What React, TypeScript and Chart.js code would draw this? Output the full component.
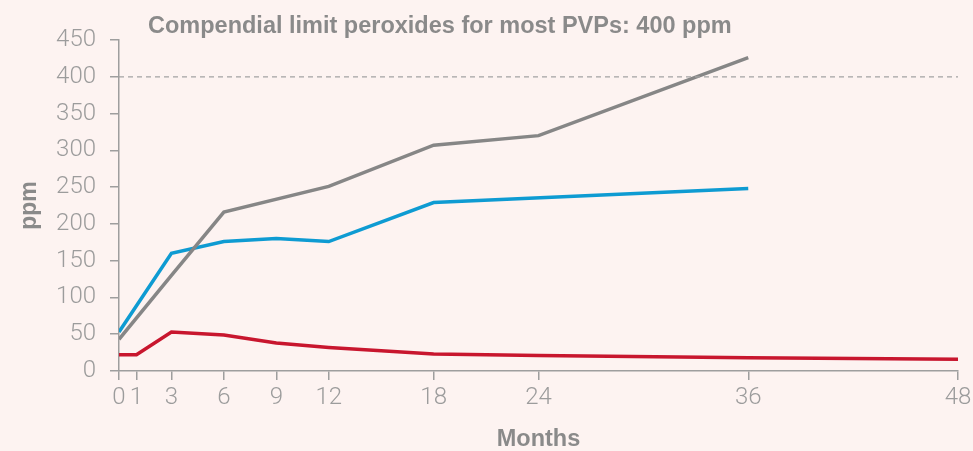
import React, { useEffect, useRef } from "react";
import { Chart, registerables } from "chart.js";

Chart.register(...registerables);

const xTicks = [0, 1, 3, 6, 9, 12, 18, 24, 36, 48];
const yMax = 450;
const yStep = 50;
const limitValue = 400;

const grayMonths = [0, 3, 6, 12, 18, 24, 36];
const grayValues = [43, 130, 216, 251, 307, 320, 426];

const blueMonths = [0, 3, 6, 9, 12, 18, 36];
const blueValues = [53, 160, 176, 180, 176, 229, 248];

const redMonths = [0, 1, 3, 6, 9, 12, 18, 24, 36, 48];
const redValues = [22, 22, 53, 49, 38, 32, 23, 21, 18, 16];

const titleText = "Compendial limit peroxides for most PVPs: 400 ppm";
const yTitle = "ppm";
const xTitle = "Months";

const BG = "#fdf3f1";
const AXIS = "#9e9e9e";
const TEXT = "#9c9c9c";
const TITLE = "#8a8a8a";
const TICK_FONT = { family: "Roboto, 'Liberation Sans', sans-serif", size: 24, weight: "300" };
const BOLD_FONT = "'Liberation Sans', Arial, sans-serif";

const toPts = (xs: number[], ys: number[]) => xs.map((x, i) => ({ x, y: ys[i] }));

export default function App() {
  const ref = useRef<HTMLCanvasElement | null>(null);
  useEffect(() => {
    document.body.style.margin = "0";
    document.body.style.background = BG;
    const canvas = ref.current!;
    const titlePlugin = {
      id: "topTitle",
      afterDraw(chart: any) {
        const ctx = chart.ctx;
        ctx.save();
        ctx.font = `bold 23.5px ${BOLD_FONT}`;
        ctx.fillStyle = TITLE;
        ctx.textBaseline = "middle";
        ctx.textAlign = "left";
        ctx.fillText(titleText, chart.chartArea.left + 29, 27);
        ctx.restore();
      },
    };
    const chart = new Chart(canvas, {
      type: "line",
      data: {
        datasets: [
          {
            data: [
              { x: xTicks[0], y: limitValue },
              { x: xTicks[xTicks.length - 1], y: limitValue },
            ],
            borderColor: "#a3a3a3",
            borderWidth: 1.2,
            borderDash: [5, 4],
            pointRadius: 0,
          },
          {
            data: toPts(grayMonths, grayValues),
            borderColor: "#868686",
            borderWidth: 3.5,
            pointRadius: 0,
            tension: 0,
          },
          {
            data: toPts(blueMonths, blueValues),
            borderColor: "#0e9bd2",
            borderWidth: 3.5,
            pointRadius: 0,
            tension: 0,
          },
          {
            data: toPts(redMonths, redValues),
            borderColor: "#c8162e",
            borderWidth: 3.5,
            pointRadius: 0,
            tension: 0,
          },
        ],
      },
      options: {
        animation: false,
        responsive: false,
        maintainAspectRatio: false,
        layout: { padding: { left: 0, right: 15, top: 40, bottom: 0 } },
        plugins: { legend: { display: false }, tooltip: { enabled: false }, title: { display: false } },
        scales: {
          x: {
            type: "linear",
            min: 0,
            max: 48,
            afterBuildTicks: (scale: any) => {
              scale.ticks = xTicks.map((v) => ({ value: v }));
            },
            afterFit: (scale: any) => {
              scale.height = 80;
              scale.paddingRight = 0;
              scale.paddingLeft = 0;
            },
            grid: {
              drawOnChartArea: false,
              drawTicks: true,
              tickLength: 9,
              color: AXIS,
              lineWidth: 1.5,
            },
            border: { color: AXIS, width: 1.5 },
            ticks: {
              color: TEXT,
              padding: 4,
              autoSkip: false,
              maxRotation: 0,
              font: TICK_FONT,
            },
            title: {
              display: true,
              text: xTitle,
              color: TITLE,
              padding: { top: 4, bottom: -3 },
              font: { family: BOLD_FONT, size: 23.5, weight: "bold" },
            },
          },
          y: {
            min: 0,
            max: yMax,
            afterFit: (scale: any) => {
              scale.width = 119;
            },
            grid: {
              drawOnChartArea: false,
              drawTicks: true,
              tickLength: 9,
              color: AXIS,
              lineWidth: 1.5,
            },
            border: { color: AXIS, width: 1.5 },
            ticks: {
              stepSize: yStep,
              color: TEXT,
              padding: 14,
              font: TICK_FONT,
            },
            title: {
              display: true,
              text: yTitle,
              color: TITLE,
              padding: { top: 16, bottom: 0 },
              font: { family: BOLD_FONT, size: 23, weight: "bold" },
            },
          },
        },
      },
      plugins: [titlePlugin],
    } as any);
    return () => chart.destroy();
  }, []);
  return (
    <div style={{ width: 973, height: 451, background: BG }}>
      <canvas ref={ref} width={973} height={451} style={{ display: "block" }} />
    </div>
  );
}
